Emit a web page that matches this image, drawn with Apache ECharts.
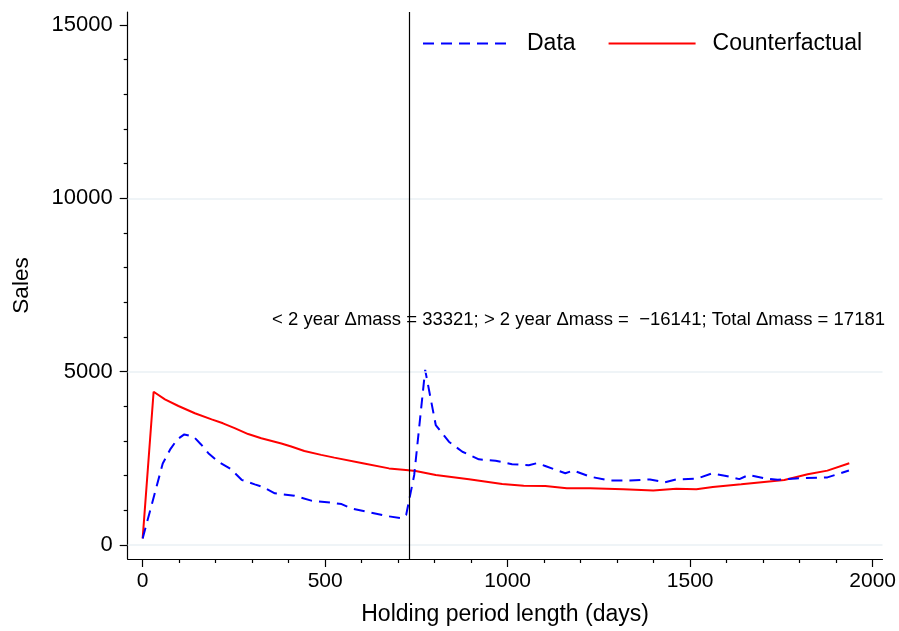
<!DOCTYPE html>
<html>
<head>
<meta charset="utf-8">
<script src="https://cdn.jsdelivr.net/npm/echarts@6/dist/echarts.min.js"></script>
<style>html,body{margin:0;padding:0;background:#fff}#c{width:899px;height:631px}</style>
</head>
<body>
<div id="c"></div>
<script>
// Holding period (days) and sales
const dataDays  = [0, 55, 75, 95, 114, 140, 160, 180, 207, 243, 271, 307, 330, 362, 416, 462, 525, 545, 570, 621, 666, 710, 722, 744, 774, 803, 839, 876, 921, 967, 1012, 1058, 1080, 1103, 1158, 1180, 1226, 1281, 1335, 1390, 1431, 1462, 1517, 1558, 1595, 1635, 1660, 1700, 1740, 1790, 1876, 1935];
const dataSales = [190, 2350, 2750, 3050, 3190, 3120, 2900, 2650, 2400, 2180, 1880, 1750, 1670, 1490, 1420, 1280, 1210, 1180, 1060, 945, 840, 770, 870, 2020, 5050, 3460, 2980, 2690, 2470, 2430, 2330, 2300, 2360, 2280, 2070, 2150, 1970, 1860, 1860, 1890, 1810, 1890, 1910, 2060, 2000, 1900, 2020, 1930, 1880, 1920, 1950, 2150];
const cfDays  = [0, 30, 61, 98, 143, 189, 220, 252, 289, 325, 380, 407, 443, 489, 525, 603, 675, 721, 748, 803, 894, 985, 1044, 1103, 1162, 1226, 1317, 1399, 1462, 1517, 1562, 1640, 1758, 1822, 1876, 1936];
const cfSales = [190, 4420, 4200, 4010, 3800, 3625, 3510, 3370, 3200, 3080, 2930, 2840, 2710, 2600, 2520, 2360, 2210, 2165, 2135, 2020, 1895, 1760, 1710, 1700, 1635, 1635, 1605, 1570, 1625, 1605, 1670, 1750, 1875, 2040, 2145, 2360];
const xTicks = [0, 500, 1000, 1500, 2000];
const xMinor = [100, 200, 300, 400, 600, 700, 800, 900, 1100, 1200, 1300, 1400, 1600, 1700, 1800, 1900];
const yTicks = [0, 5000, 10000, 15000];
const yMinor = [1000, 2000, 3000, 4000, 6000, 7000, 8000, 9000, 11000, 12000, 13000, 14000];
const gridValues = [0, 5000, 10000];
const cutoffDay = 730;
const seriesNames = ['Data', 'Counterfactual'];
const noteText = '< 2 year \u0394mass = 33321; > 2 year \u0394mass =  \u221216141; Total \u0394mass = 17181';

const FONT = '"Liberation Sans", Arial, sans-serif';
const XMIN = -41, XMAX = 2027, YMIN = -404, YMAX = 15375;

const chart = echarts.init(document.getElementById('c'), null, {renderer: 'canvas'});
const pair = (xs, ys) => xs.map((x, i) => [x, ys[i]]);
const plain = v => String(v);

chart.setOption({
  animation: false,
  backgroundColor: '#fff',
  textStyle: {fontFamily: FONT},
  grid: {left: 127.7, right: 14, top: 12, bottom: 72, containLabel: false},
  legend: {
    left: 422, top: 32, padding: 0,
    itemWidth: 87, itemHeight: 14, itemGap: 32,
    itemStyle: {opacity: 0},
    textStyle: {fontFamily: FONT, fontSize: 23, color: '#000', padding: [0, 0, 0, 12]},
    data: seriesNames
  },
  xAxis: [{
    type: 'value', min: XMIN, max: XMAX, position: 'bottom', offset: 0,
    name: 'Holding period length (days)', nameLocation: 'middle', nameGap: 44,
    nameTextStyle: {fontFamily: FONT, fontSize: 23, color: '#000'},
    axisLine: {show: true, onZero: false, lineStyle: {color: '#000', width: 1.2}},
    axisTick: {show: true, length: 8, customValues: xTicks, lineStyle: {color: '#000', width: 1.2}},
    axisLabel: {show: true, customValues: xTicks, formatter: plain, margin: 12, fontFamily: FONT, fontSize: 21, color: '#000'},
    splitLine: {show: false}
  }, {
    type: 'value', min: XMIN, max: XMAX, position: 'bottom', offset: 0,
    axisLine: {show: false, onZero: false},
    axisTick: {show: true, length: 4, customValues: xMinor, lineStyle: {color: '#000', width: 1.2}},
    axisLabel: {show: false},
    splitLine: {show: false}
  }],
  yAxis: [{
    type: 'value', min: YMIN, max: YMAX, position: 'left', offset: 0,
    name: 'Sales', nameLocation: 'middle', nameGap: 94,
    nameTextStyle: {fontFamily: FONT, fontSize: 22.5, color: '#000'},
    axisLine: {show: true, onZero: false, lineStyle: {color: '#000', width: 1.2}},
    axisTick: {show: true, length: 8, customValues: yTicks, lineStyle: {color: '#000', width: 1.2}},
    axisLabel: {show: true, customValues: yTicks, formatter: plain, margin: 15, fontFamily: FONT, fontSize: 22, color: '#000'},
    splitLine: {show: false}
  }, {
    type: 'value', min: YMIN, max: YMAX, position: 'left', offset: 0,
    axisLine: {show: false, onZero: false},
    axisTick: {show: true, length: 4, customValues: yMinor, lineStyle: {color: '#000', width: 1.2}},
    axisLabel: {show: false},
    splitLine: {show: false}
  }],
  series: [{
    name: 'grid', type: 'line', data: [], z: 1, silent: true,
    markLine: {
      silent: true, symbol: ['none', 'none'], label: {show: false}, animation: false,
      lineStyle: {color: '#eaf0f4', width: 1.5, type: 'solid'},
      data: gridValues.map(v => ({yAxis: v}))
    }
  }, {
    name: seriesNames[0], type: 'line', data: pair(dataDays, dataSales), z: 3,
    showSymbol: false, symbol: 'none',
    lineStyle: {color: '#0000ff', width: 2, type: [11, 7]},
    itemStyle: {color: '#0000ff'}
  }, {
    name: seriesNames[1], type: 'line', data: pair(cfDays, cfSales), z: 2,
    showSymbol: false, symbol: 'none',
    lineStyle: {color: '#ff0000', width: 2, type: 'solid'},
    itemStyle: {color: '#ff0000'},
    markLine: {
      silent: true, symbol: ['none', 'none'], label: {show: false}, animation: false,
      lineStyle: {color: '#000', width: 1.2, type: 'solid'},
      data: [{xAxis: cutoffDay}]
    }
  }],
  graphic: [{
    type: 'text', right: 14, top: 310, z: 10,
    style: {text: noteText, font: '18.5px ' + FONT, fill: '#000', align: 'right'}
  }]
});
</script>
</body>
</html>
